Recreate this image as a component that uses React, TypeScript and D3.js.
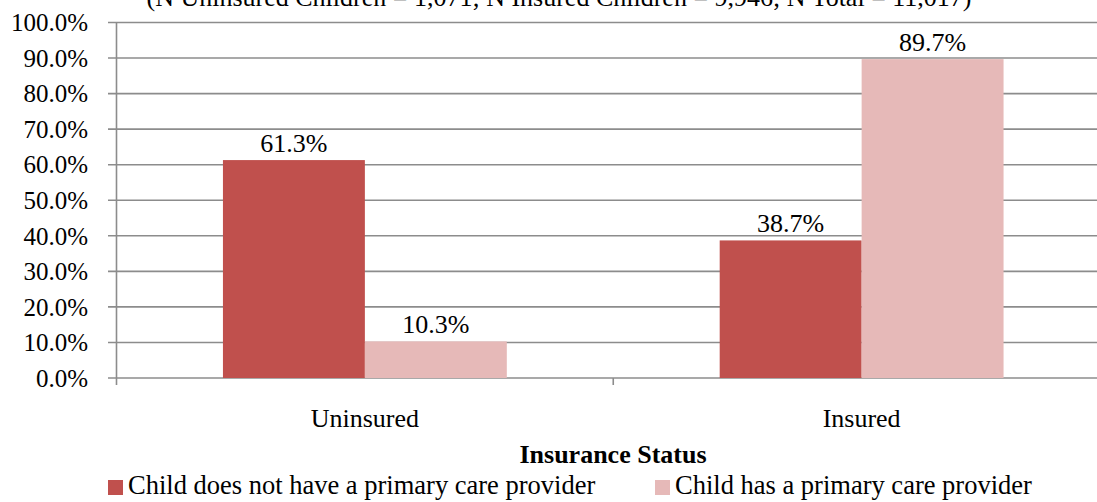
import React from "react";
import * as d3 from "d3";

const categories = ["Uninsured", "Insured"];
const seriesNames = [
  "Child does not have a primary care provider",
  "Child has a primary care provider",
];
const noProvider = [61.3, 38.7];
const hasProvider = [10.3, 89.7];
const yTicks = [0, 10, 20, 30, 40, 50, 60, 70, 80, 90, 100];
const titleText = "(N Uninsured Children = 1,071; N Insured Children = 9,946; N Total = 11,017)";
const xTitle = "Insurance Status";
const colors = ["#C0504D", "#E6B9B8"];

const W = 1097;
const H = 502;
const FONT = "Liberation Serif, Times New Roman, serif";

export default function App() {
  const y = d3.scaleLinear().domain([0, 100]).range([378, 22.5]);
  const x = d3.scaleBand<string>().domain(categories).range([116.5, 1110]).paddingInner(0).paddingOuter(0);
  const bw = x.bandwidth();
  const barW = bw / 3.5;
  const inner = d3.scaleBand<number>().domain([0, 1]).range([0, barW * 2]);
  const series = [noProvider, hasProvider];
  const fmt = (v: number) => v.toFixed(1) + "%";
  const gridColor = "#8c8c8c";
  const legendX = [108, 655];

  return (
    <svg width={W} height={H} style={{ position: "absolute", left: 0, top: 0, background: "#fff", fontFamily: FONT }}>
      <text x={559} y={6} fontSize={26} textAnchor="middle" fill="#000" style={{ fontFamily: FONT }}>{titleText}</text>
      {yTicks.map((t) => (
        <g key={t}>
          <line x1={108} x2={W} y1={y(t)} y2={y(t)} stroke={gridColor} strokeWidth={1.6} />
          <text x={88} y={y(t)} dy="0.35em" fontSize={25} textAnchor="end" fill="#000" style={{ fontFamily: FONT }}>{fmt(t)}</text>
        </g>
      ))}
      <line x1={116.5} x2={116.5} y1={y(100)} y2={y(0) + 7} stroke={gridColor} strokeWidth={1.6} />
      {categories.map((c, i) =>
        i > 0 ? (
          <line key={"t" + c} x1={x(c)!} x2={x(c)!} y1={y(0)} y2={y(0) + 7} stroke={gridColor} strokeWidth={1.6} />
        ) : null
      )}
      {categories.map((c, i) => {
        const gx = x(c)! + (bw - barW * 2) / 2;
        return (
          <g key={c}>
            {series.map((s, j) => (
              <g key={j}>
                <rect x={gx + inner(j)!} y={y(s[i])} width={inner.bandwidth()} height={y(0) - y(s[i])} fill={colors[j]} />
                <text x={gx + inner(j)! + inner.bandwidth() / 2} y={y(s[i]) - 8} fontSize={26} textAnchor="middle" fill="#000" style={{ fontFamily: FONT }}>{fmt(s[i])}</text>
              </g>
            ))}
            <text x={x(c)! + bw / 2} y={427} fontSize={26} textAnchor="middle" fill="#000" style={{ fontFamily: FONT }}>{c}</text>
          </g>
        );
      })}
      <text x={613} y={463} fontSize={26} fontWeight="bold" textAnchor="middle" fill="#000" style={{ fontFamily: FONT }}>{xTitle}</text>
      {seriesNames.map((n, j) => {
        const lx = legendX[j];
        return (
          <g key={n}>
            <rect x={lx} y={480} width={15} height={15} fill={colors[j]} />
            <text x={lx + 20} y={494} fontSize={26.5} fill="#000" style={{ fontFamily: FONT }}>{n}</text>
          </g>
        );
      })}
    </svg>
  );
}
